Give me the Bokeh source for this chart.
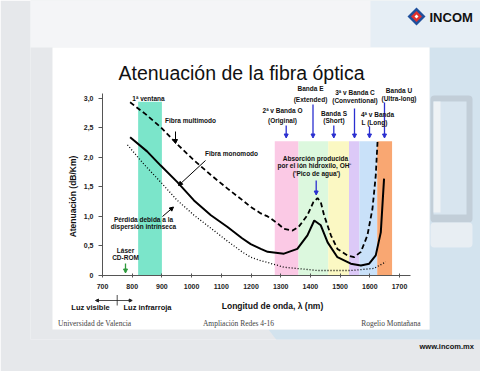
from bokeh.plotting import figure
from bokeh.models import (Range1d, FixedTicker, Label, Arrow, NormalHead, Title,
                          BoxAnnotation, PolyAnnotation, ColumnDataSource)
from bokeh.embed import file_html
from bokeh.resources import INLINE
import math

# ---------------- data ----------------
band_names = ["1ª ventana", "O", "E", "S", "C", "L", "U"]
band_start = [820, 1280, 1360, 1460, 1530, 1565, 1625]
band_end = [900, 1360, 1460, 1530, 1565, 1625, 1675]
band_top = [2.94, 2.27, 2.27, 2.27, 2.27, 2.27, 2.27]
band_colors = ["#7be5ca", "#fbc9e5", "#dcf8de", "#fbf8c3", "#dcc9f7", "#c9e1f9", "#f9a772"]

# fibra multimodo (dashed)
mm_nm = [793, 845, 896, 950, 1008, 1065, 1121, 1170, 1199, 1233, 1256, 1290, 1311, 1340,
         1360, 1390, 1410, 1424, 1435, 1446, 1469, 1491, 1525, 1547, 1570, 1592, 1609, 1620, 1626]
mm_att = [2.93, 2.73, 2.51, 2.23, 1.95, 1.70, 1.47, 1.28, 1.16, 1.05, 1.00, 0.88, 0.79, 0.76,
          0.82, 1.02, 1.24, 1.31, 1.24, 1.02, 0.68, 0.45, 0.34, 0.31, 0.40, 0.68, 1.13, 1.69, 2.26]

# fibra monomodo (solid)
sm_nm = [793, 850, 896, 952, 1008, 1065, 1121, 1170, 1199, 1233, 1256, 1311, 1356, 1390,
         1413, 1435, 1458, 1491, 1536, 1570, 1598, 1620, 1637, 1648]
sm_att = [2.34, 2.10, 1.86, 1.58, 1.27, 1.02, 0.82, 0.63, 0.53, 0.45, 0.40, 0.37, 0.45, 0.68,
          0.93, 0.85, 0.56, 0.31, 0.20, 0.17, 0.20, 0.34, 0.73, 1.64]

# pérdida por dispersión intrínseca (dotted)
ray_nm = [784, 840, 896, 950, 1008, 1065, 1121, 1170, 1199, 1233, 1256, 1311, 1424, 1536, 1614, 1654]
ray_att = [2.21, 1.88, 1.58, 1.28, 1.02, 0.80, 0.58, 0.40, 0.31, 0.25, 0.22, 0.14, 0.085, 0.085, 0.12, 0.23]

x_ticks = [700, 800, 900, 1000, 1100, 1200, 1300, 1400, 1500, 1600, 1700]
y_ticks = [0, 0.5, 1.0, 1.5, 2.0, 2.5, 3.0]
y_tick_labels = ["0", "0,5", "1,0", "1,5", "2,0", "2,5", "3,0"]

# ---------------- layout constants (page pixels) ----------------
W, H = 480, 371
MBL, MBR, MBT, MBB = 30, 0, 0, 32
X0_PAGE, Y0_PAGE = 102, 275  # page position of (700 nm, 0 dB/km)
PX_X = 0.297                 # px per nm
PX_Y = 59.1                  # px per dB/km


def dx(X):
    return 700 + (X - X0_PAGE) / PX_X


def dy(Y):
    return (Y0_PAGE - Y) / PX_Y


p = figure(width=W, height=H, output_backend="svg", toolbar_location=None,
           x_range=Range1d(dx(MBL), dx(W - MBR)),
           y_range=Range1d(dy(H - MBB), dy(MBT)),
           min_border_left=MBL, min_border_right=MBR, min_border_top=MBT, min_border_bottom=MBB)
p.title.visible = False
p.outline_line_color = None
p.grid.visible = False
p.border_fill_color = "#e6e8eb"
p.background_fill_color = "#e6e8eb"

# ---------------- slide background ----------------
def box(x0, y0, x1, y1, color, radius=0):
    b = BoxAnnotation(left=dx(x0), right=dx(x1), top=dy(y0), bottom=dy(y1),
                      fill_color=color, fill_alpha=1, line_color=None, level="underlay")
    if radius:
        b.border_radius = radius
    p.add_layout(b)


def poly(pts, color, alpha=1.0):
    pa = PolyAnnotation(xs=[dx(a) for a, b in pts], ys=[dy(b) for a, b in pts],
                        fill_color=color, fill_alpha=alpha, line_color=None, level="underlay")
    p.add_layout(pa)


box(0, 0, 480, 47, "#f4f5f7")
box(370, 0, 480, 47, "#e6eef5")
box(429, 47, 480, 371, "#d3e3ee")
poly([(429, 329), (480, 329), (480, 371), (300, 371), (268, 329)], "#d3e3ee")
# monitor graphic
box(430, 95, 472, 222, "#c2ced8", 4)
box(433, 101, 466, 214, "#d8e5ef")
box(433, 101, 440, 212, "#eef2f5")
box(430, 222, 472, 247, "#e8eef3", 4)
# white slide
box(52, 47, 429, 329, "white")

# logo
poly([(416, 7), (425, 16), (416, 25), (407, 16)], "#1f4f9c")
poly([(416, 10.5), (421.5, 16), (416, 21.5), (410.5, 16)], "#e0322f")
poly([(416, 14), (418, 16), (416, 18), (414, 16)], "white")
p.add_layout(Label(x=dx(429), y=dy(17), text="INCOM",
                   text_font="'Liberation Sans Narrow', 'Liberation Sans'",
                   text_font_style="bold", text_font_size="13px", text_color="#111",
                   text_baseline="middle", text_align="left"))

# ---------------- chart ----------------
src = ColumnDataSource(dict(left=band_start, right=band_end, top=band_top,
                            bottom=[0] * len(band_start), color=band_colors, name=band_names))
p.quad(left="left", right="right", top="top", bottom="bottom", fill_color="color",
       line_color=None, source=src)

p.line(ray_nm, ray_att, color="black", line_width=1.3, line_dash="1 2")
p.line(mm_nm, mm_att, color="black", line_width=1.8, line_dash="5 3")
p.line(sm_nm, sm_att, color="black", line_width=2)

# axes (drawn at the chart origin inside the slide)
for ax in (p.xaxis, p.yaxis):
    ax.axis_line_color = "#555"
    ax.major_tick_line_color = "#555"
    ax.minor_tick_line_color = None
    ax.major_label_text_font = "Liberation Sans"
    ax.major_label_text_font_style = "bold"
    ax.major_label_text_font_size = "7px"
    ax.major_label_text_color = "#222"
p.xaxis.fixed_location = 0
p.xaxis.bounds = (dx(99), dx(410))
p.xaxis.ticker = FixedTicker(ticks=x_ticks)
p.xaxis.major_tick_in = 2
p.xaxis.major_tick_out = 2
p.xaxis.major_label_standoff = 6
p.yaxis.fixed_location = 700
p.yaxis.bounds = (0, dy(93))
p.yaxis.ticker = FixedTicker(ticks=y_ticks)
p.yaxis.major_label_overrides = dict(zip(y_ticks, y_tick_labels))
p.yaxis.major_tick_in = 0
p.yaxis.major_tick_out = 4
p.yaxis.major_label_standoff = 5


def lab(X, Y, text, size="6.5px", bold=True, align="center", font="Liberation Sans",
        color="#111", angle=0):
    p.add_layout(Label(x=dx(X), y=dy(Y), text=text, text_font=font,
                       text_font_style="bold" if bold else "normal", text_font_size=size,
                       text_color=color, text_align=align, text_baseline="middle",
                       angle=angle))


def arrow(x0, y0, x1, y1, color="black", size=4, width=1):
    p.add_layout(Arrow(x_start=dx(x0), y_start=dy(y0), x_end=dx(x1), y_end=dy(y1),
                       line_color=color, line_width=width,
                       end=NormalHead(size=size, fill_color=color, line_color=color)))


lab(241, 72, "Atenuación de la fibra óptica", size="19.5px", bold=False)
lab(72, 196, "Atenuación (dB/Km)", size="8.5px", angle=math.pi / 2)
lab(272, 305, "Longitud de onda, λ (nm)", size="8.5px")

lab(148, 97.5, "1ª ventana")
lab(190, 120, "Fibra multimodo")
arrow(175, 131, 175, 143)
lab(231, 153, "Fibra monomodo")
arrow(205, 160, 178, 185)
lab(143, 218.5, "Pérdida debida a la")
lab(143, 225.5, "dispersión intrínseca")
arrow(162, 216, 173, 206.5)
lab(125, 249.5, "Láser")
lab(125, 257, "CD-ROM")
arrow(125, 263, 125, 272.5, color="#2e9a3c", width=1.3)

BLUE = "#2a2fd0"
lab(310, 87.5, "Banda E")
lab(310, 98.5, "(Extended)")
arrow(312.5, 104, 312.5, 137.5, color=BLUE, width=1.3)
lab(282, 109.5, "2ª v Banda O")
lab(282, 120, "(Original)")
arrow(285.7, 125, 285.7, 137.5, color=BLUE, width=1.3)
lab(354.5, 92, "3ª v Banda C")
lab(354.5, 100, "(Conventional)")
arrow(354, 108, 354, 137.5, color=BLUE, width=1.3)
lab(333.5, 112.5, "Banda S")
lab(333.5, 120, "(Short)")
arrow(333.3, 125, 333.3, 137.5, color=BLUE, width=1.3)
lab(398.5, 90, "Banda U")
lab(398.5, 97.5, "(Ultra-long)")
arrow(384, 102, 384, 137.5, color=BLUE, width=1.3)
lab(377, 114, "4ª v Banda")
lab(374, 121.5, "L (Long)")
arrow(369, 126, 369, 137.5, color=BLUE, width=1.3)

lab(315, 157.5, "Absorción producida")
lab(314, 165, "por el ión hidroxilo, OH⁻")
lab(316, 172.5, "('Pico de agua')")
arrow(315.7, 180, 315.7, 194.5, color=BLUE, width=1.3)

# luz visible / infrarroja
p.add_layout(Arrow(x_start=dx(95), y_start=dy(300), x_end=dx(131.7), y_end=dy(300),
                   line_color="#222", line_width=0.8,
                   start=NormalHead(size=3, fill_color="#222", line_color="#222"),
                   end=NormalHead(size=3, fill_color="#222", line_color="#222")))
p.add_layout(Arrow(x_start=dx(116.7), y_start=dy(294.5), x_end=dx(116.7), y_end=dy(305),
                   line_color="#222", line_width=0.8, end=None))
lab(90, 307, "Luz visible", size="7.5px")
lab(147, 307, "Luz infrarroja", size="7.5px")

# footer
lab(57.5, 322.5, "Universidad de Valencia", size="7.5px", bold=False, align="left",
    font="Liberation Serif", color="#444")
lab(238, 322.5, "Ampliación Redes 4-16", size="7.5px", bold=False,
    font="Liberation Serif", color="#444")
lab(420, 322.5, "Rogelio Montañana", size="7.5px", bold=False, align="right",
    font="Liberation Serif", color="#444")

# web address under the slide
p.add_layout(Title(text="www.incom.mx", align="left", text_font="Liberation Sans",
                   text_font_style="bold", text_font_size="7.5px", text_color="#111",
                   offset=419 - MBL, standoff=0), "below")

open("out.html", "w").write(file_html(p, INLINE))
